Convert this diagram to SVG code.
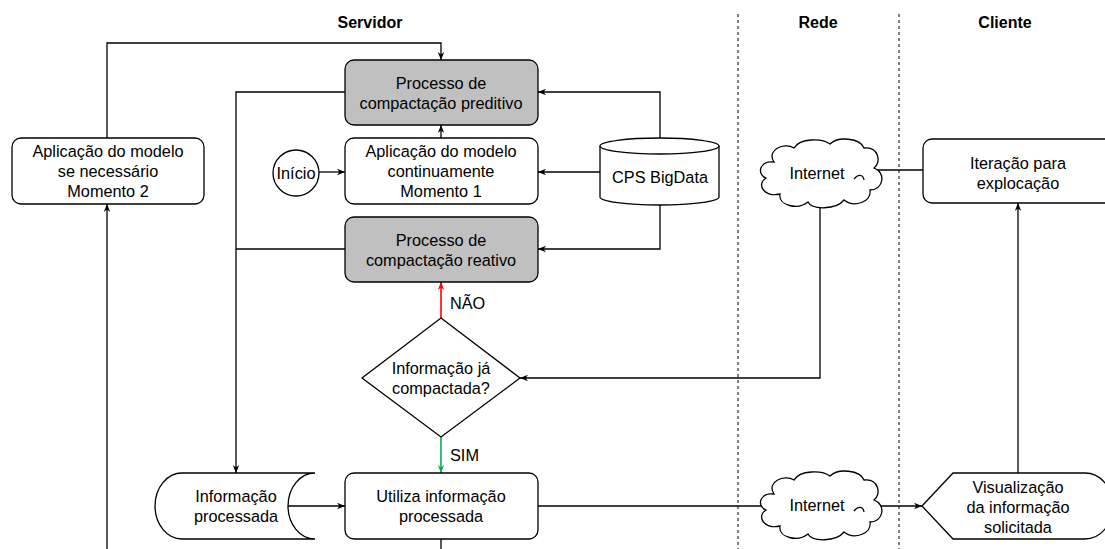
<svg xmlns="http://www.w3.org/2000/svg" width="1105" height="549" viewBox="0 0 1105 549">
<style>
text{font-family:"Liberation Sans",Arial,sans-serif;font-size:16.3px;fill:#000;text-anchor:middle}
.h{font-weight:bold;font-size:16px}
.l{text-anchor:start}
.n{stroke:#000;stroke-width:1.3;fill:#fff}
.g{fill:#c0c0c0}
.c{stroke:#000;stroke-width:1.3;fill:none}
.d{stroke:#000;stroke-width:1;stroke-dasharray:3,3;fill:none}
</style>
<defs>
<marker id="a" viewBox="0 0 10 10" refX="10" refY="5" markerWidth="8" markerHeight="8" markerUnits="userSpaceOnUse" orient="auto"><path d="M0,1 L10,5 L0,9 L3,5 Z" fill="#000"/></marker>
<marker id="ar" viewBox="0 0 10 10" refX="10" refY="5" markerWidth="8" markerHeight="8" markerUnits="userSpaceOnUse" orient="auto"><path d="M0,1 L10,5 L0,9 L3,5 Z" fill="#ff0000"/></marker>
<marker id="ag" viewBox="0 0 10 10" refX="10" refY="5" markerWidth="8" markerHeight="8" markerUnits="userSpaceOnUse" orient="auto"><path d="M0,1 L10,5 L0,9 L3,5 Z" fill="#00b050"/></marker>
<path id="cloud" d="M24,26 C16,14 34,6 44,12 C50,2 72,2 80,8 C88,0 110,2 114,12 C128,10 132,26 124,32 C136,36 134,54 120,54 C122,66 104,72 94,64 C86,74 62,74 58,66 C48,74 28,70 30,58 C14,62 6,48 16,42 C6,38 10,24 24,26 Z"/>
</defs>

<g id="lanes">
<line class="d" x1="738" y1="14" x2="738" y2="549"/>
<line class="d" x1="899" y1="14" x2="899" y2="549"/>
<text class="h" x="370" y="28">Servidor</text>
<text class="h" x="818" y="28">Rede</text>
<text class="h" x="1005" y="28">Cliente</text>
</g>

<g id="connectors">
<path class="c" d="M107,138 L107,43 L441,43 L441,60" marker-end="url(#a)"/>
<path class="c" d="M107,549 L107,204" marker-end="url(#a)"/>
<path class="c" d="M345,92 L236,92 L236,473" marker-end="url(#a)"/>
<path class="c" d="M345,249 L236,249"/>
<path class="c" d="M319,172 L345,172" marker-end="url(#a)"/>
<path class="c" d="M441,138 L441,125" marker-end="url(#a)"/>
<path class="c" d="M660,139 L660,92 L538,92" marker-end="url(#a)"/>
<path class="c" d="M600,172 L538,172" marker-end="url(#a)"/>
<path class="c" d="M660,204 L660,249 L538,249" marker-end="url(#a)"/>
<path class="c" d="M875,170 L923,170"/>
<path class="c" d="M820,204 L820,378 L520,378" marker-end="url(#a)"/>
<path d="M441,318 L441,282" stroke="#ff0000" stroke-width="1.6" fill="none" marker-end="url(#ar)"/>
<path d="M441,437 L441,473" stroke="#00b050" stroke-width="1.6" fill="none" marker-end="url(#ag)"/>
<path class="c" d="M288,506 L345,506" marker-end="url(#a)"/>
<path class="c" d="M538,506 L764,506"/>
<path class="c" d="M876,506 L922,506" marker-end="url(#a)"/>
<path class="c" d="M441,539 L441,549"/>
<path class="c" d="M1018,473 L1018,203" marker-end="url(#a)"/>
</g>

<g id="preditivo">
<rect class="n g" x="345" y="60" width="193" height="65" rx="9"/>
<text x="441" y="88.5">Processo de</text>
<text x="441" y="108.5">compactação preditivo</text>
</g>
<g id="momento1">
<rect class="n" x="345" y="138" width="193" height="66" rx="9"/>
<text x="441" y="157">Aplicação do modelo</text>
<text x="441" y="177">continuamente</text>
<text x="441" y="197">Momento 1</text>
</g>
<g id="reativo">
<rect class="n g" x="345" y="217" width="193" height="65" rx="9"/>
<text x="441" y="245.5">Processo de</text>
<text x="441" y="265.5">compactação reativo</text>
</g>
<g id="momento2">
<rect class="n" x="12" y="138" width="192" height="66" rx="9"/>
<text x="108" y="157">Aplicação do modelo</text>
<text x="108" y="177">se necessário</text>
<text x="108" y="197">Momento 2</text>
</g>
<g id="inicio">
<circle class="n" cx="296" cy="173" r="23"/>
<text x="296" y="179">Início</text>
</g>
<g id="bigdata">
<path class="n" d="M600,146 A59.5,8 0 0 1 719,146 L719,197 A59.5,8 0 0 1 600,197 Z"/>
<path class="c" d="M600,146 A59.5,8 0 0 0 719,146"/>
<text x="660" y="183">CPS BigData</text>
</g>
<g id="internet1">
<use href="#cloud" class="n" transform="translate(750,136)"/>
<path class="c" d="M854,179 C858,174 863,174 864,180"/>
<text x="817" y="179">Internet</text>
</g>
<g id="iteracao">
<rect class="n" x="923" y="139" width="194" height="64" rx="9"/>
<text x="1018" y="169">Iteração para</text>
<text x="1018" y="189">explocação</text>
</g>
<g id="decisao">
<path class="n" d="M441,318 L520,378 L441,437 L362,378 Z"/>
<text x="441" y="374">Informação já</text>
<text x="441" y="394">compactada?</text>
<text class="l" x="450" y="309">NÃO</text>
<text class="l" x="450" y="461">SIM</text>
</g>
<g id="infoprocessada">
<path class="n" d="M182,473 L315,473 A27,33 0 0 0 315,539 L182,539 A27,33 0 0 1 182,473 Z"/>
<text x="236" y="502">Informação</text>
<text x="236" y="522">processada</text>
</g>
<g id="utiliza">
<rect class="n" x="345" y="473" width="193" height="66" rx="9"/>
<text x="441" y="502">Utiliza informação</text>
<text x="441" y="522">processada</text>
</g>
<g id="internet2">
<use href="#cloud" class="n" transform="translate(750,468)"/>
<path class="c" d="M854,511 C858,506 863,506 864,512"/>
<text x="817" y="511">Internet</text>
</g>
<g id="visualizacao">
<path class="n" d="M922,506 L953,473 L1085,473 A28,33 0 0 1 1085,539 L953,539 Z"/>
<text x="1018" y="493">Visualização</text>
<text x="1018" y="513">da informação</text>
<text x="1018" y="533">solicitada</text>
</g>
</svg>
